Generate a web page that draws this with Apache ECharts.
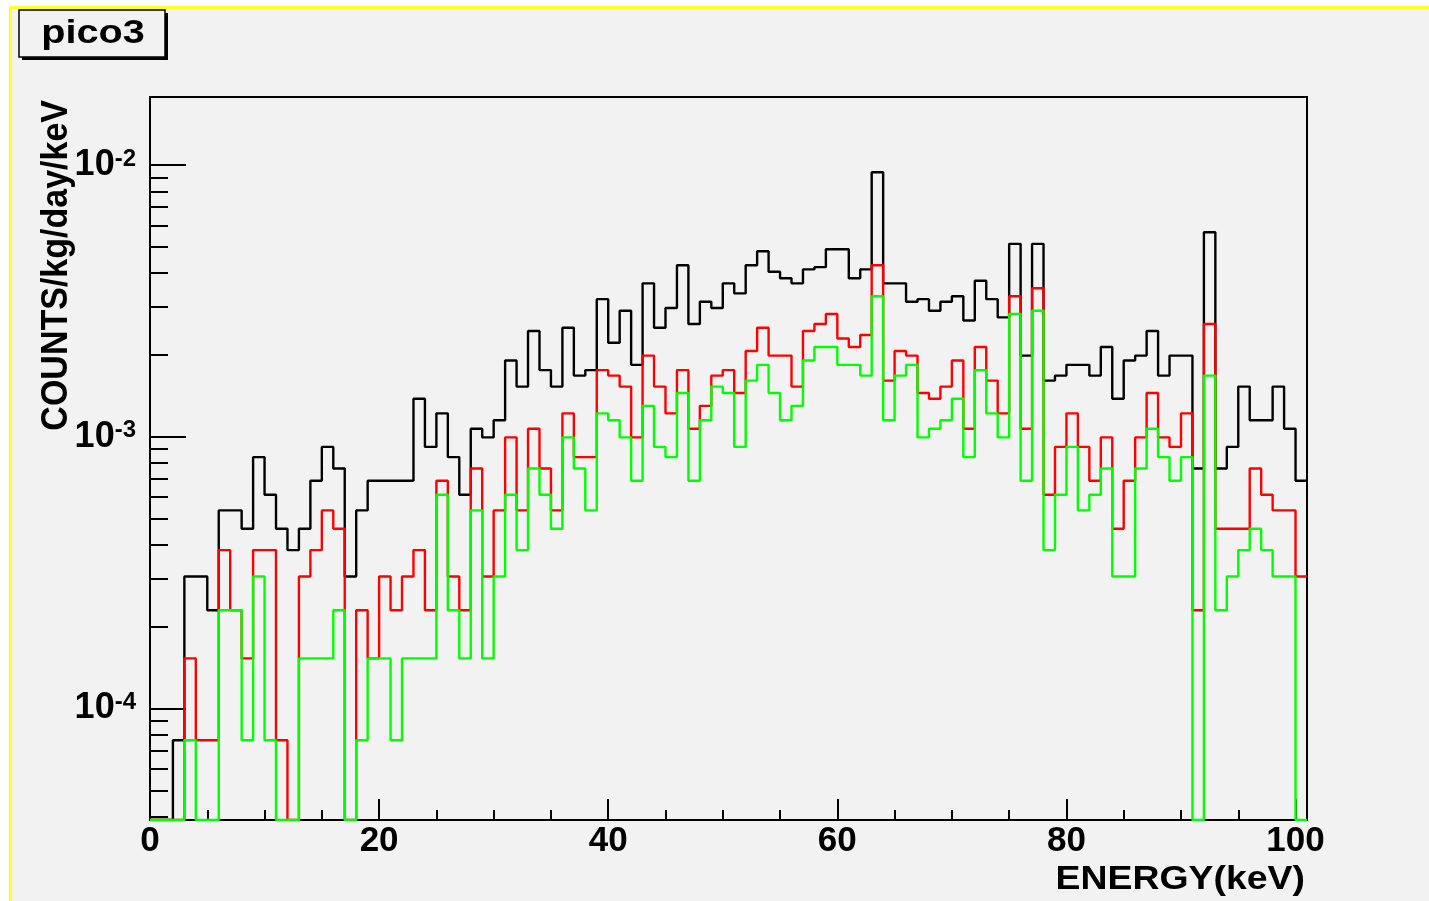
<!DOCTYPE html>
<html>
<head>
<meta charset="utf-8">
<title>pico3</title>
<script src="https://cdn.jsdelivr.net/npm/echarts@6/dist/echarts.min.js"></script>
<style>
  html, body { margin: 0; padding: 0; background: #ffffff; }
  #pad {
    position: absolute; left: 9px; top: 6px; width: 1420px; height: 895px;
    box-sizing: border-box; background: #f2f2f2;
    border-top: 3px solid #ffff26; border-left: 3px solid #ffff26;
  }
  #chart { position: absolute; left: 0; top: 0; width: 1429px; height: 901px; }
</style>
</head>
<body>
<div id="pad"></div>
<div id="chart"></div>
<script>
// Energy bins: lower edge of each 1 keV bin (keV)
const binLow = [
  0,1,2,3,4,5,6,7,8,9,10,11,12,13,14,15,16,17,18,19,
  20,21,22,23,24,25,26,27,28,29,30,31,32,33,34,35,36,37,38,39,
  40,41,42,43,44,45,46,47,48,49,50,51,52,53,54,55,56,57,58,59,
  60,61,62,63,64,65,66,67,68,69,70,71,72,73,74,75,76,77,78,79,
  80,81,82,83,84,85,86,87,88,89,90,91,92,93,94,95,96,97,98,99,
  100
];
const binWidth = 1;

// Rates per bin (counts/kg/day/keV)
const blackRate = [
  0, 0, 7.65e-5, 3.06e-4, 3.06e-4, 2.30e-4, 5.36e-4, 5.36e-4, 4.59e-4, 8.42e-4,
  6.12e-4, 4.59e-4, 3.83e-4, 4.59e-4, 6.89e-4, 9.18e-4, 7.65e-4, 3.06e-4, 5.36e-4, 6.89e-4,
  6.89e-4, 6.89e-4, 6.89e-4, 1.38e-3, 9.18e-4, 1.22e-3, 8.42e-4, 6.12e-4, 1.07e-3, 9.95e-4,
  1.15e-3, 1.91e-3, 1.53e-3, 2.45e-3, 1.76e-3, 1.53e-3, 2.52e-3, 1.68e-3, 1.76e-3, 3.21e-3,
  2.22e-3, 2.91e-3, 1.84e-3, 3.67e-3, 2.52e-3, 2.98e-3, 4.28e-3, 2.60e-3, 3.14e-3, 2.98e-3,
  3.67e-3, 3.37e-3, 4.28e-3, 4.82e-3, 4.05e-3, 3.83e-3, 3.67e-3, 4.13e-3, 4.21e-3, 4.90e-3,
  4.90e-3, 3.83e-3, 4.13e-3, 9.41e-3, 3.67e-3, 3.67e-3, 3.14e-3, 3.21e-3, 2.91e-3, 3.14e-3,
  3.29e-3, 2.68e-3, 3.75e-3, 3.21e-3, 2.75e-3, 5.13e-3, 1.99e-3, 5.13e-3, 1.61e-3, 1.68e-3,
  1.84e-3, 1.84e-3, 1.68e-3, 2.14e-3, 1.38e-3, 1.91e-3, 1.99e-3, 2.45e-3, 1.68e-3, 1.99e-3,
  1.99e-3, 7.65e-4, 5.66e-3, 7.65e-4, 9.18e-4, 1.53e-3, 1.15e-3, 1.15e-3, 1.53e-3, 1.07e-3,
  6.89e-4
];
const redRate = [
  0, 0, 0, 1.53e-4, 7.65e-5, 7.65e-5, 3.83e-4, 2.30e-4, 1.53e-4, 3.83e-4,
  3.83e-4, 7.65e-5, 0, 3.06e-4, 3.83e-4, 5.36e-4, 4.59e-4, 0, 2.30e-4, 1.53e-4,
  3.06e-4, 2.30e-4, 3.06e-4, 3.83e-4, 2.30e-4, 6.89e-4, 3.06e-4, 2.30e-4, 7.65e-4, 3.06e-4,
  5.36e-4, 9.95e-4, 5.36e-4, 1.07e-3, 7.65e-4, 5.36e-4, 1.22e-3, 8.42e-4, 8.42e-4, 1.76e-3,
  1.68e-3, 1.53e-3, 9.95e-4, 1.99e-3, 1.53e-3, 1.22e-3, 1.76e-3, 1.07e-3, 1.30e-3, 1.68e-3,
  1.76e-3, 1.45e-3, 2.07e-3, 2.52e-3, 1.99e-3, 1.99e-3, 1.53e-3, 2.45e-3, 2.60e-3, 2.83e-3,
  2.30e-3, 2.14e-3, 2.37e-3, 4.28e-3, 1.61e-3, 2.07e-3, 1.99e-3, 1.45e-3, 1.38e-3, 1.53e-3,
  1.91e-3, 1.07e-3, 2.14e-3, 1.61e-3, 1.22e-3, 3.29e-3, 1.07e-3, 3.52e-3, 6.12e-4, 9.18e-4,
  1.22e-3, 9.18e-4, 6.89e-4, 9.95e-4, 4.59e-4, 6.89e-4, 9.95e-4, 1.45e-3, 9.95e-4, 9.18e-4,
  1.22e-3, 2.30e-4, 2.60e-3, 4.59e-4, 4.59e-4, 4.59e-4, 7.65e-4, 6.12e-4, 5.36e-4, 5.36e-4,
  3.06e-4
];
const greenRate = [
  0, 0, 0, 7.65e-5, 0, 0, 2.30e-4, 2.30e-4, 7.65e-5, 3.06e-4,
  7.65e-5, 0, 0, 1.53e-4, 1.53e-4, 1.53e-4, 2.30e-4, 0, 7.65e-5, 1.53e-4,
  1.53e-4, 7.65e-5, 1.53e-4, 1.53e-4, 1.53e-4, 6.12e-4, 2.30e-4, 1.53e-4, 5.36e-4, 1.53e-4,
  3.06e-4, 6.12e-4, 3.83e-4, 7.65e-4, 6.12e-4, 4.59e-4, 9.95e-4, 7.65e-4, 5.36e-4, 1.22e-3,
  1.15e-3, 9.95e-4, 6.89e-4, 1.30e-3, 9.18e-4, 8.42e-4, 1.45e-3, 6.89e-4, 1.15e-3, 1.53e-3,
  1.45e-3, 9.18e-4, 1.61e-3, 1.84e-3, 1.45e-3, 1.15e-3, 1.30e-3, 1.91e-3, 2.14e-3, 2.14e-3,
  1.84e-3, 1.84e-3, 1.68e-3, 3.29e-3, 1.15e-3, 1.68e-3, 1.84e-3, 9.95e-4, 1.07e-3, 1.15e-3,
  1.38e-3, 8.42e-4, 1.76e-3, 1.22e-3, 9.95e-4, 2.83e-3, 6.89e-4, 2.91e-3, 3.83e-4, 6.12e-4,
  9.18e-4, 5.36e-4, 6.12e-4, 7.65e-4, 3.06e-4, 3.06e-4, 7.65e-4, 1.07e-3, 8.42e-4, 6.89e-4,
  8.42e-4, 0, 1.68e-3, 2.30e-4, 3.06e-4, 3.83e-4, 4.59e-4, 3.83e-4, 3.06e-4, 3.06e-4,
  0
];

// Axis ranges and ticks
const X_MIN = 0, X_MAX = 101;
const Y_MIN = 3.89e-5, Y_MAX = 1.78e-2;
const xMajorTicks = [0, 20, 40, 60, 80, 100];
const xMinorTicks = [5, 10, 15, 25, 30, 35, 45, 50, 55, 65, 70, 75, 85, 90, 95];
const yMajorTicks = [1e-4, 1e-3, 1e-2];
const yMinorTicks = [
  4e-5, 5e-5, 6e-5, 7e-5, 8e-5, 9e-5,
  2e-4, 3e-4, 4e-4, 5e-4, 6e-4, 7e-4, 8e-4, 9e-4,
  2e-3, 3e-3, 4e-3, 5e-3, 6e-3, 7e-3, 8e-3, 9e-3
];

const FONT = '"Liberation Sans", Arial, Helvetica, sans-serif';

// Step outline of a histogram: one point per bin lower edge, plus the
// upper edge of the last bin. Empty bins sit on the bottom of the frame.
function histogramPoints(rates) {
  const pts = binLow.map((x, i) => [x, rates[i] > 0 ? rates[i] : Y_MIN]);
  const last = rates[rates.length - 1];
  pts.push([binLow[binLow.length - 1] + binWidth, last > 0 ? last : Y_MIN]);
  return pts;
}

function histSeries(name, rates, color) {
  return {
    name: name,
    type: 'line',
    step: 'end',
    data: histogramPoints(rates),
    xAxisIndex: 0,
    yAxisIndex: 0,
    showSymbol: false,
    symbol: 'none',
    clip: true,
    silent: true,
    lineStyle: { color: color, width: 2.4 }
  };
}

const tickStyle = { color: '#000', width: 2 };

const chart = echarts.init(document.getElementById('chart'), null, { renderer: 'canvas' });
chart.setOption({
  animation: false,
  backgroundColor: 'transparent',
  grid: {
    left: 150, top: 97, width: 1157, height: 723,
    show: true, borderColor: '#000', borderWidth: 2,
    backgroundColor: 'transparent',
    containLabel: false, outerBoundsMode: 'none'
  },
  xAxis: [
    {
      type: 'value', min: X_MIN, max: X_MAX, position: 'bottom',
      axisLine: { show: false }, splitLine: { show: false },
      axisTick: { show: true, inside: true, length: 21, customValues: xMajorTicks, lineStyle: tickStyle },
      axisLabel: {
        customValues: xMajorTicks, margin: 4,
        fontSize: 35, fontWeight: 'bold', fontFamily: FONT, color: '#000'
      }
    },
    {
      type: 'value', min: X_MIN, max: X_MAX, position: 'bottom',
      axisLine: { show: false }, splitLine: { show: false },
      axisLabel: { show: false },
      axisTick: { show: true, inside: true, length: 10, customValues: xMinorTicks, lineStyle: tickStyle }
    }
  ],
  yAxis: [
    {
      type: 'log', logBase: 10, min: Y_MIN, max: Y_MAX, position: 'left',
      axisLine: { show: false }, splitLine: { show: false },
      axisTick: { show: true, inside: true, length: 36, customValues: yMajorTicks, lineStyle: tickStyle },
      axisLabel: {
        customValues: yMajorTicks, margin: 14,
        formatter: function (v) {
          return '{m|10}{e|' + Math.round(Math.log10(v)) + '}';
        },
        rich: {
          m: { fontSize: 36, fontWeight: 'bold', fontFamily: FONT, color: '#000',
               lineHeight: 36, padding: [6, 0, 0, 0], verticalAlign: 'bottom' },
          e: { fontSize: 24, fontWeight: 'bold', fontFamily: FONT, color: '#000',
               lineHeight: 24, verticalAlign: 'top' }
        }
      }
    },
    {
      type: 'log', logBase: 10, min: Y_MIN, max: Y_MAX, position: 'left',
      axisLine: { show: false }, splitLine: { show: false },
      axisLabel: { show: false },
      axisTick: { show: true, inside: true, length: 18, customValues: yMinorTicks, lineStyle: tickStyle }
    }
  ],
  series: [
    histSeries('all', blackRate, '#000000'),
    histSeries('cut1', redRate, '#ff0000'),
    histSeries('cut2', greenRate, '#00ff00')
  ],
  graphic: [
    // title box with drop shadow
    { type: 'rect', shape: { x: 22, y: 13, width: 146, height: 47 }, style: { fill: '#000' }, silent: true },
    { type: 'rect', shape: { x: 19, y: 10, width: 146, height: 47 },
      style: { fill: '#f2f2f2', stroke: '#000', lineWidth: 1.5 }, silent: true },
    { type: 'text', x: 93, y: 34, scaleX: 1.2, silent: true,
      style: { text: 'pico3', font: 'bold 33px ' + FONT, fill: '#000',
               align: 'center', verticalAlign: 'middle', textAlign: 'center', textVerticalAlign: 'middle' } },
    // axis titles
    { type: 'text', x: 57, y: 100, rotation: Math.PI / 2, scaleY: 1.08, silent: true,
      style: { text: 'COUNTS/kg/day/keV', font: 'bold 34px ' + FONT, fill: '#000',
               align: 'right', verticalAlign: 'middle', textAlign: 'right', textVerticalAlign: 'middle' } },
    { type: 'text', x: 1305, y: 880, scaleX: 1.1, silent: true,
      style: { text: 'ENERGY(keV)', font: 'bold 34px ' + FONT, fill: '#000',
               align: 'right', verticalAlign: 'middle', textAlign: 'right', textVerticalAlign: 'middle' } }
  ]
});
</script>
</body>
</html>
